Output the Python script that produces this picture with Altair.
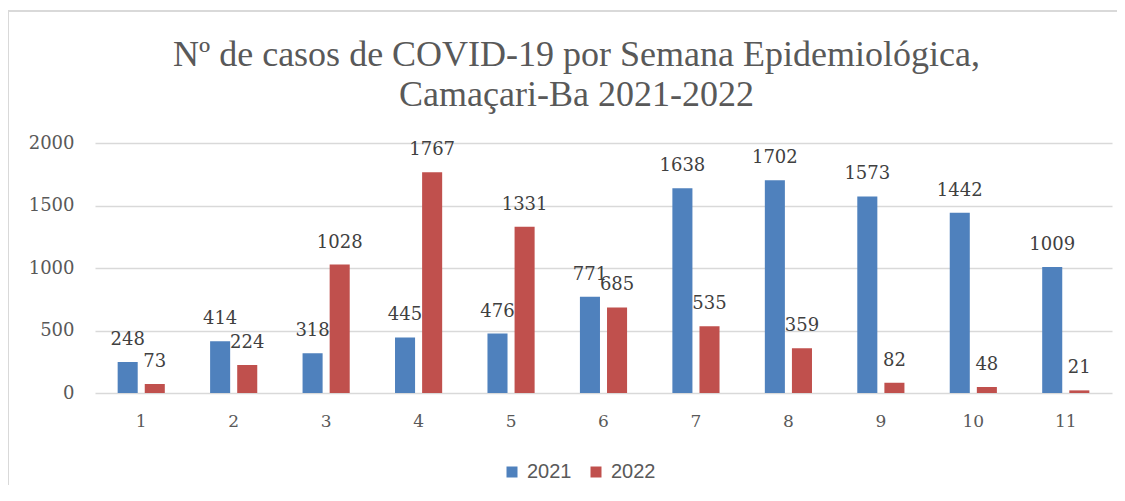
import altair as alt
import pandas as pd

semanas = [str(i) for i in range(1, 12)]
casos_2021 = [248, 414, 318, 445, 476, 771, 1638, 1702, 1573, 1442, 1009]
casos_2022 = [73, 224, 1028, 1767, 1331, 685, 535, 359, 82, 48, 21]
anos = ["2021", "2022"]
cores = ["#4F81BD", "#C0504D"]
y_ticks = [0, 500, 1000, 1500, 2000]

rows = []
for s, a, b in zip(semanas, casos_2021, casos_2022):
    rows.append({"semana": s, "ano": "2021", "casos": a})
    rows.append({"semana": s, "ano": "2022", "casos": b})
df = pd.DataFrame(rows)

x = alt.X("semana:N", sort=semanas, title=None,
          scale=alt.Scale(paddingInner=0.49, paddingOuter=0.245),
          axis=alt.Axis(labelAngle=0, domain=False, ticks=False, labelPadding=20,
                        labelFont="DejaVu Serif", labelFontSize=17, labelColor="#595959"))
y = alt.Y("casos:Q", title=None,
          scale=alt.Scale(domain=[0, 2000], nice=False),
          axis=alt.Axis(values=y_ticks, format="d", domain=False, ticks=False, labelPadding=21,
                        labelFont="DejaVu Serif", labelFontSize=18, labelColor="#595959",
                        gridColor="#d9d9d9", gridWidth=1.5))
xoff = alt.XOffset("ano:N", sort=anos,
                   scale=alt.Scale(paddingInner=0.26, paddingOuter=0))
color = alt.Color("ano:N", sort=anos,
                  scale=alt.Scale(domain=anos, range=cores),
                  legend=alt.Legend(title=None, orient="none", direction="horizontal",
                                    legendX=407, legendY=319, symbolType="square",
                                    symbolSize=121, symbolStrokeWidth=0,
                                    labelFont="Liberation Sans", labelFontSize=20,
                                    labelColor="#595959", labelOffset=5,
                                    columnPadding=14, padding=0))

base = alt.Chart(df)
bars = base.mark_bar().encode(x=x, y=y, xOffset=xoff, color=color)
labels = base.mark_text(baseline="middle", dy=-22, font="DejaVu Serif",
                        fontSize=18, color="#404040").encode(
    x=alt.X("semana:N", sort=semanas), y="casos:Q", xOffset=xoff,
    text=alt.Text("casos:Q"))

border_left = base.mark_rule(color="#d9d9d9", strokeWidth=1.5).encode(
    x=alt.value(-87), y=alt.value(-132), y2=alt.value(345))
border_top = base.mark_rule(color="#d9d9d9", strokeWidth=1.5).encode(
    x=alt.value(-87), x2=alt.value(1022), y=alt.value(-132))

chart = alt.layer(border_left, border_top, bars, labels).properties(
    width=1017, height=250,
    autosize=alt.AutoSizeParams(type="none"),
    padding={"left": 87, "top": 135, "right": 5, "bottom": 92},
    title=alt.Title(["Nº de casos de COVID-19 por Semana Epidemiológica,",
                     "Camaçari-Ba 2021-2022"],
                    anchor="middle", frame="group", dx=-27, offset=0, dy=104,
                    font="Liberation Serif", fontSize=36, fontWeight="normal",
                    color="#595959", lineHeight=40),
).configure_view(stroke=None)

chart.save("out.html", embed_options={"renderer": "svg", "actions": False})
